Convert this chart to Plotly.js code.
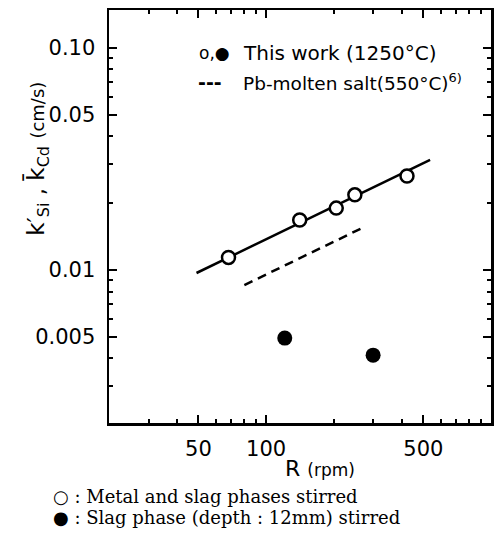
<!DOCTYPE html>
<html>
<head>
<meta charset="utf-8">
<script src="https://cdn.plot.ly/plotly-3.0.1.min.js"></script>
<style>html,body{margin:0;padding:0;background:#fff;}#plot{width:494px;height:541px;}</style>
</head>
<body>
<div id="plot"></div>
<script>
// Open circles: metal and slag phases stirred
const rOpen = [68, 141, 205, 248, 423];
const kOpen = [0.0114, 0.0168, 0.0190, 0.0218, 0.0265];
// Filled circles: slag phase stirred
const rFilled = [121, 299];
const kFilled = [0.00494, 0.00414];
// Fitted line (this work)
const rFit = [49, 536];
const kFit = [0.0097, 0.0313];
// Pb-molten salt (dashed)
const rPb = [80, 272];
const kPb = [0.00856, 0.0156];

const xTickVals = [50, 100, 500];
const xTickText = ['50', '100', '500'];
const xMinor = [30, 40, 60, 70, 80, 90, 200, 300, 400, 600, 700, 800, 900];
const yTickVals = [0.005, 0.01, 0.05, 0.1];
const yTickText = ['0.005', '0.01', '0.05', '0.10'];
const yMinor = [0.003, 0.004, 0.006, 0.007, 0.008, 0.009, 0.02, 0.03, 0.04, 0.06, 0.07, 0.08, 0.09];

const traces = [
  {x: rFit, y: kFit, mode: 'lines', line: {color: '#000', width: 2.5}, showlegend: false},
  {x: rPb, y: kPb, mode: 'lines', line: {color: '#000', width: 2.5, dash: '9px,6px'}, showlegend: false},
  {x: rOpen, y: kOpen, mode: 'markers', marker: {symbol: 'circle', size: 13, color: '#fff', line: {color: '#000', width: 2.5}}, showlegend: false},
  {x: rFilled, y: kFilled, mode: 'markers', marker: {symbol: 'circle', size: 15, color: '#000'}, showlegend: false}
];

const sans = 'DejaVu Sans, sans-serif';
const serif = 'DejaVu Serif, serif';
const tickFont = {family: sans, size: 21, color: '#000'};

const layout = {
  width: 494, height: 541,
  margin: {l: 109, r: 3, t: 10, b: 118},
  paper_bgcolor: '#fff', plot_bgcolor: '#fff',
  showlegend: false,
  xaxis: {
    type: 'log', range: [Math.log10(20), Math.log10(1000)],
    tickvals: xTickVals, ticktext: xTickText,
    ticks: 'inside', ticklen: 8, tickwidth: 2, tickcolor: '#000',
    minor: {tickvals: xMinor, ticks: 'inside', ticklen: 4, tickwidth: 2, tickcolor: '#000', showgrid: false},
    showline: true, linewidth: 2.5, linecolor: '#000', mirror: 'ticks',
    showgrid: false, zeroline: false,
    tickfont: tickFont, ticklabelstandoff: 5
  },
  yaxis: {
    type: 'log', range: [Math.log10(0.00205), Math.log10(0.148)],
    tickvals: yTickVals, ticktext: yTickText,
    ticks: 'inside', ticklen: 8, tickwidth: 2, tickcolor: '#000',
    minor: {tickvals: yMinor, ticks: 'inside', ticklen: 4, tickwidth: 2, tickcolor: '#000', showgrid: false},
    showline: true, linewidth: 2.5, linecolor: '#000', mirror: 'ticks',
    showgrid: false, zeroline: false,
    tickfont: tickFont, ticklabelstandoff: 7
  },
  annotations: [
    // y-axis title
    {xref: 'paper', yref: 'paper', x: -0.188, y: 0.64, xanchor: 'center', yanchor: 'middle', showarrow: false, textangle: -90,
     text: 'k′<sub>Si</sub> , k̄<sub>Cd</sub> <span style="font-size:18px">(cm/s)</span>', font: {family: sans, size: 23, color: '#000'}},
    // x-axis title
    {xref: 'paper', yref: 'paper', x: 0.552, y: -0.11, xanchor: 'center', yanchor: 'middle', showarrow: false,
     text: 'R <span style="font-size:17px">(rpm)</span>', font: {family: sans, size: 22, color: '#000'}},
    // in-plot legend
    {xref: 'paper', yref: 'paper', x: 0.231, y: 0.896, xanchor: 'left', yanchor: 'middle', showarrow: false,
     text: 'o,●', font: {family: sans, size: 17, color: '#000'}},
    {xref: 'paper', yref: 'paper', x: 0.346, y: 0.896, xanchor: 'left', yanchor: 'middle', showarrow: false,
     text: 'This work (1250°C)', font: {family: sans, size: 20, color: '#000'}},
    {xref: 'paper', yref: 'paper', x: 0.227, y: 0.826, xanchor: 'left', yanchor: 'middle', showarrow: false,
     text: '<b>---</b>', font: {family: sans, size: 19, color: '#000'}},
    {xref: 'paper', yref: 'paper', x: 0.346, y: 0.826, xanchor: 'left', yanchor: 'middle', showarrow: false,
     text: 'Pb-molten salt(550°C)<sup>6)</sup>', font: {family: sans, size: 18.5, color: '#000'}},
    // captions below the chart
    {xref: 'paper', yref: 'paper', x: -0.153, y: -0.179, xanchor: 'left', yanchor: 'middle', showarrow: false,
     text: '○ : Metal and slag phases stirred', font: {family: serif, size: 18, color: '#000'}},
    {xref: 'paper', yref: 'paper', x: -0.153, y: -0.230, xanchor: 'left', yanchor: 'middle', showarrow: false,
     text: '● : Slag phase (depth : 12mm) stirred', font: {family: serif, size: 18, color: '#000'}}
  ]
};

Plotly.newPlot('plot', traces, layout, {displayModeBar: false, staticPlot: true});
</script>
</body>
</html>
